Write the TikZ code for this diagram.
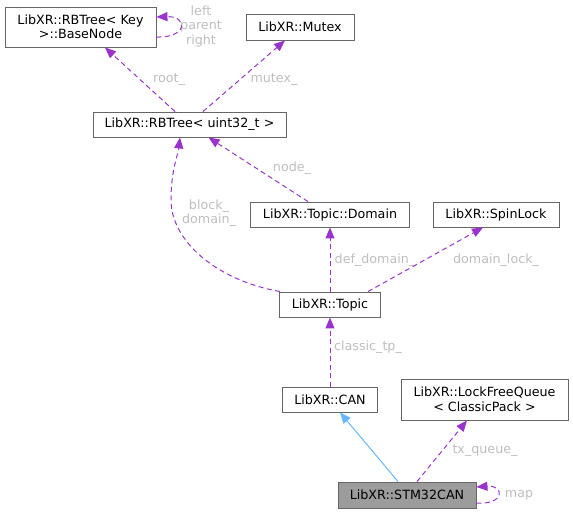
\documentclass[tikz,border=0pt]{standalone}
\usepackage{fontspec}
\setmainfont{DejaVu Sans}
\usetikzlibrary{arrows.meta}
\definecolor{depcol}{HTML}{9A32CD}
\definecolor{inhcol}{HTML}{63B8FF}
\definecolor{lblcol}{HTML}{BEBEBE}
\definecolor{boxcol}{HTML}{666666}

\begin{document}
\begin{tikzpicture}[x=1pt, y=1pt, font=\fontsize{12.7}{14.5}\selectfont,
    dep/.style={depcol, line width=1pt, dash pattern=on 5pt off 3.5pt, -{Triangle[length=11pt,width=9pt]}},
    inh/.style={inhcol, line width=1pt, -{Triangle[length=11pt,width=9pt]}}]

\useasboundingbox (0,0) rectangle (573,-513);

\begin{scope}[every node/.style={draw=boxcol, line width=0.9pt, fill=white, inner sep=0pt, align=center, minimum height=25pt}]
    \node[minimum width=151pt, minimum height=40pt] (basenode) at (80.5,-27) {LibXR::RBTree< Key\\>::BaseNode};
    \node[minimum width=108pt, minimum height=26pt] (mutex) at (300,-27) {LibXR::Mutex};
    \node[minimum width=193pt] (rbtree) at (189.5,-124.5) {LibXR::RBTree< uint32\_t >};
    \node[minimum width=159pt] (domain) at (330,-214.5) {LibXR::Topic::Domain};
    \node[minimum width=126pt] (spinlock) at (496,-214.5) {LibXR::SpinLock};
    \node[minimum width=101pt] (topic) at (330,-304.5) {LibXR::Topic};
    \node[minimum width=95pt] (can) at (330,-399.5) {LibXR::CAN};
    \node[minimum width=167pt, minimum height=41pt] (lfq) at (484.5,-399.5) {LibXR::LockFreeQueue\\< ClassicPack >};
    \node[minimum width=138pt, minimum height=26pt, fill=boxcol!65] (stm) at (407,-495) {LibXR::STM32CAN};
\end{scope}

\begin{scope}[every node/.style={text=lblcol, inner sep=0pt, align=center}]
    \node (l_lpr) at (201,-26) {left\\parent\\right};
    \node (l_root) at (169,-80) {root\_};
    \node (l_mutex) at (274,-80) {mutex\_};
    \node (l_node) at (292,-168) {node\_};
    \node (l_block) at (209,-213) {block\_\\domain\_};
    \node (l_def) at (375,-260) {def\_domain\_};
    \node (l_lock) at (496,-260) {domain\_lock\_};
    \node (l_classic) at (368,-347) {classic\_tp\_};
    \node (l_txq) at (485,-451) {tx\_queue\_};
    \node (l_map) at (519,-495) {map};
\end{scope}

\begin{scope}
    \draw[dep] ([yshift=-10pt]basenode.east) .. controls (188,-38) and (188,-16) .. ([yshift=10pt]basenode.east);
    \draw[dep] ([xshift=-14.5pt]rbtree.north) -- ([xshift=24.5pt]basenode.south);
    \draw[dep] ([xshift=13.5pt]rbtree.north) -- ([xshift=-15pt]mutex.south);
    \draw[dep] ([xshift=-22pt]domain.north) -- ([xshift=19pt]rbtree.south);
    \draw[dep] ([xshift=1pt]topic.north west) .. controls (215,-280) and (171,-240) .. (171,-200)
        .. controls (171,-170) and (178,-155) .. ([xshift=-9.5pt]rbtree.south);
    \draw[dep] (topic.north) -- (domain.south);
    \draw[dep] ([xshift=38pt]topic.north) -- ([xshift=-13pt]spinlock.south);
    \draw[dep] (can.north) -- (topic.south);
    \draw[inh] ([xshift=-9pt]stm.north) -- ([xshift=10pt]can.south);
    \draw[dep] ([xshift=10pt]stm.north) -- ([xshift=-17.5pt]lfq.south);
    \draw[dep] ([yshift=-8pt]stm.east) .. controls (505,-505) and (505,-485) .. ([yshift=8pt]stm.east);
\end{scope}

\end{tikzpicture}
\end{document}
